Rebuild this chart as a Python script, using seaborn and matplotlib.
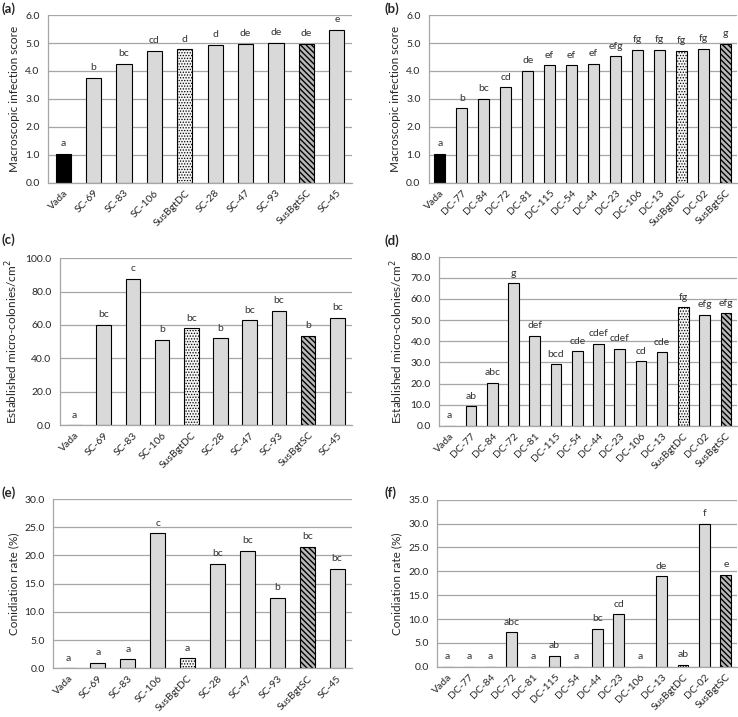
"""Infection, micro-colony and conidiation scores for SC and DC lines (six panels)."""

import matplotlib

matplotlib.use("Agg")

import matplotlib.pyplot as plt
import numpy as np
import pandas as pd
import seaborn as sns

SC_LINES = ["Vada", "SC-69", "SC-83", "SC-106", "SusBgtDC", "SC-28", "SC-47", "SC-93", "SusBgtSC", "SC-45"]
SC_INFECTION = [1.03, 3.75, 4.25, 4.72, 4.78, 4.93, 4.97, 5.0, 4.98, 5.48]
SC_INFECTION_GROUPS = ["a", "b", "bc", "cd", "d", "d", "de", "de", "de", "e"]

DC_INFECTION_LINES = ["Vada", "DC-77", "DC-84", "DC-72", "DC-81", "DC-115", "DC-54", "DC-44",
                      "DC-23", "DC-106", "DC-13", "SusBgtDC", "DC-02", "SusBgtSC"]
DC_INFECTION = [1.03, 2.67, 3.0, 3.42, 4.0, 4.2, 4.2, 4.25, 4.52, 4.75, 4.75, 4.72, 4.8, 4.98]
DC_INFECTION_GROUPS = ["a", "b", "bc", "cd", "de", "ef", "ef", "ef", "efg", "fg", "fg", "fg", "fg", "g"]

SC_COLONIES = [0.0, 60.0, 87.5, 51.0, 58.0, 52.0, 62.8, 68.5, 53.5, 64.3]
SC_COLONIES_GROUPS = ["a", "bc", "c", "b", "bc", "b", "bc", "bc", "b", "bc"]

DC_COLONIES = [0.0, 9.2, 20.5, 67.5, 42.7, 29.2, 35.3, 38.7, 36.5, 30.5, 34.8, 56.0, 52.5, 53.3]
DC_COLONIES_GROUPS = ["a", "ab", "abc", "g", "def", "bcd", "cde", "cdef", "cdef", "cd", "cde",
                      "fg", "efg", "efg"]

SC_CONIDIATION = [0.0, 1.0, 1.6, 23.9, 1.8, 18.5, 20.8, 12.5, 21.5, 17.6]
SC_CONIDIATION_GROUPS = ["a", "a", "a", "c", "a", "bc", "bc", "b", "bc", "bc"]

DC_CONIDIATION = [0.0, 0.0, 0.0, 7.2, 0.0, 2.3, 0.0, 8.0, 11.0, 0.0, 19.0, 0.4, 30.0, 19.3]
DC_CONIDIATION_GROUPS = ["a", "a", "a", "abc", "a", "ab", "a", "bc", "cd", "a", "de", "ab", "f", "e"]

FONT = ["Lato", "DejaVu Sans"]
GRID_GRAY = "#a6a6a6"
FIG_W, FIG_H = 738, 717


def bar_colour(line: str) -> str:
    if line == "Vada":
        return "black"
    if line == "SusBgtDC":
        return "#f4f4f4"
    if line == "SusBgtSC":
        return "#b8b8b8"
    return "#d9d9d9"


def draw_panel(ax, lines, values, groups, ylabel, ymax, step):
    frame = pd.DataFrame({"line": lines, "value": values})
    palette = {line: bar_colour(line) for line in lines}
    sns.barplot(data=frame, x="line", y="value", hue="line", palette=palette, legend=False,
                width=0.5, edgecolor="black", linewidth=0.8, saturation=1, ax=ax)

    for patch, line in zip(ax.patches, lines):
        if line == "SusBgtDC":
            patch.set_hatch("......")
        elif line == "SusBgtSC":
            patch.set_hatch("\\\\\\\\\\\\")
            if hasattr(patch, "set_hatch_linewidth"):
                patch.set_hatch_linewidth(1.0)

    for i, (value, group) in enumerate(zip(values, groups)):
        ax.annotate(group, (i, value), xytext=(0, 4), textcoords="offset points",
                    ha="center", va="bottom", fontsize=7.5, color="#333333", family=FONT)

    n = len(lines)
    ticks = np.arange(0, ymax + step / 2, step)
    ax.set_xlim(-0.5, n - 0.5)
    ax.set_ylim(0, ymax)
    ax.set_yticks(ticks)
    ax.set_yticklabels([f"{t:.1f}" for t in ticks], fontsize=7.5, family=FONT)
    ax.set_xticks(range(n))
    ax.set_xticklabels(lines, rotation=45, ha="right", rotation_mode="anchor",
                       fontsize=7.5, family=FONT)
    ax.set_xticks(np.arange(-0.5, n), minor=True)
    ax.tick_params(axis="x", which="major", length=0, pad=4)
    ax.tick_params(axis="x", which="minor", length=4, color=GRID_GRAY, width=0.8)
    ax.tick_params(axis="y", length=4, color=GRID_GRAY, width=0.8, pad=2)

    ax.set_xlabel("")
    ax.set_ylabel(ylabel, fontsize=8.5, family=FONT)
    ax.grid(axis="y", color=GRID_GRAY, linewidth=0.9)
    ax.grid(axis="x", visible=False)
    ax.set_axisbelow(True)
    for side in ("top", "right"):
        ax.spines[side].set_visible(False)
    for side in ("left", "bottom"):
        ax.spines[side].set_color(GRID_GRAY)
        ax.spines[side].set_linewidth(0.9)


def panel_tag(fig, tag, x_px, y_px):
    fig.text(x_px / FIG_W, 1 - y_px / FIG_H, tag, fontsize=9.5, fontweight="bold",
             family=FONT, ha="left", va="top")


sns.set_theme(style="white")
plt.rcParams["font.family"] = FONT
plt.rcParams["hatch.linewidth"] = 0.6

fig = plt.figure(figsize=(FIG_W / 100, FIG_H / 100), dpi=100)

ax_a = fig.add_axes([0.065, 0.745, 0.412, 0.234])
ax_b = fig.add_axes([0.581, 0.745, 0.417, 0.234])
ax_c = fig.add_axes([0.081, 0.407, 0.396, 0.233])
ax_d = fig.add_axes([0.595, 0.406, 0.403, 0.236])
ax_e = fig.add_axes([0.072, 0.068, 0.405, 0.236])
ax_f = fig.add_axes([0.592, 0.070, 0.406, 0.233])

draw_panel(ax_a, SC_LINES, SC_INFECTION, SC_INFECTION_GROUPS,
           "Macroscopic infection score", 6.0, 1.0)
draw_panel(ax_b, DC_INFECTION_LINES, DC_INFECTION, DC_INFECTION_GROUPS,
           "Macroscopic infection score", 6.0, 1.0)
draw_panel(ax_c, SC_LINES, SC_COLONIES, SC_COLONIES_GROUPS,
           "Established micro-colonies/cm$^2$", 100.0, 20.0)
draw_panel(ax_d, DC_INFECTION_LINES, DC_COLONIES, DC_COLONIES_GROUPS,
           "Established micro-colonies/cm$^2$", 80.0, 10.0)
draw_panel(ax_e, SC_LINES, SC_CONIDIATION, SC_CONIDIATION_GROUPS,
           "Conidiation rate (%)", 30.0, 5.0)
draw_panel(ax_f, DC_INFECTION_LINES, DC_CONIDIATION, DC_CONIDIATION_GROUPS,
           "Conidiation rate (%)", 35.0, 5.0)

panel_tag(fig, "(a)", 1, 2)
panel_tag(fig, "(b)", 384, 2)
panel_tag(fig, "(c)", 1, 233)
panel_tag(fig, "(d)", 384, 234)
panel_tag(fig, "(e)", 1, 486)
panel_tag(fig, "(f)", 384, 486)

fig.savefig("out.png", dpi=100, facecolor="white")
